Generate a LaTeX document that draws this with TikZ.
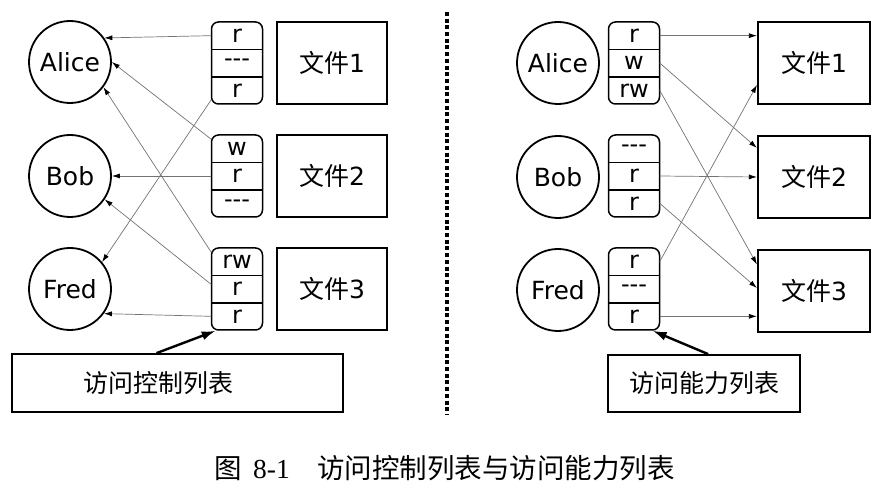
\documentclass[tikz,border=0pt]{standalone}
\usepackage{fontspec}
\usetikzlibrary{arrows.meta}
\newfontfamily\cjkfont{Noto Sans CJK SC}
\newfontfamily\namefont{DejaVu Sans}
\newfontfamily\capnumfont{Liberation Serif}
\newcommand{\permbox}[6]{%
	\node[listframe] (#1) at (#2,#3) {};
	\node[cell] (#1a) at (#2,#3+27.33) {#4};
	\node[cell] (#1b) at (#2,#3) {#5};
	\node[cell] (#1c) at (#2,#3-27.33) {#6};
	\draw[line width=1.5pt] (#1a.south west) -- (#1a.south east)
		(#1b.south west) -- (#1b.south east);
}
\begin{document}
\begin{tikzpicture}[x=1pt,y=1pt,
		user/.style={circle,draw,line width=1.8pt,minimum size=82pt,inner sep=0pt,
			font=\namefont\fontsize{25}{30}\selectfont},
		cell/.style={minimum width=51pt,minimum height=27.33pt,inner sep=0pt,
			font=\namefont\fontsize{24}{28}\selectfont},
		listframe/.style={draw,rounded corners=7pt,line width=1.5pt,
			minimum width=51pt,minimum height=82pt,inner sep=0pt},
		filebox/.style={draw,line width=2.2pt,minimum height=82pt,inner sep=0pt,
			font=\cjkfont\fontsize{25}{30}\selectfont},
		labelbox/.style={draw,line width=1.8pt,inner sep=0pt,
			font=\cjkfont\fontsize{25}{30}\selectfont},
		link/.style={draw=black!55,line width=0.7pt,-{Latex[length=8pt,width=5pt,color=black]}},
		pointer/.style={line width=2.4pt,-{Latex[length=14pt,width=9pt]}}]
	\useasboundingbox (0,0) rectangle (889,492);
	% access control lists
	\node[user] (lalice) at (70,430) {Alice};
	\node[user] (lbob) at (70,316) {Bob};
	\node[user] (lfred) at (70,203) {Fred};
	\permbox{acl1}{237}{429}{r}{{-}{-}{-}}{r}
	\permbox{acl2}{237}{316}{w}{r}{{-}{-}{-}}
	\permbox{acl3}{237}{203}{rw}{r}{r}
	\node[filebox,minimum width=110pt] (lfile1) at (332,429) {文件{\namefont 1}};
	\node[filebox,minimum width=110pt] (lfile2) at (332,316) {文件{\namefont 2}};
	\node[filebox,minimum width=110pt] (lfile3) at (332,203) {文件{\namefont 3}};
	\node[labelbox,minimum width=331pt,minimum height=58pt] (acllist) at (177.5,109)
		{访问控制列表\hspace*{38pt}};
	\draw[link] (acl1a.west) -- (lalice.35);
	\draw[link] (acl1c.200) -- (lfred.40);
	\draw[link] (acl2a.160) -- (lalice.east);
	\draw[link] (acl2b.west) -- (lbob.east);
	\draw[link] (acl3a.160) -- (lalice.-37);
	\draw[link] (acl3b.170) -- (lbob.-34);
	\draw[link] (acl3c.west) -- (lfred.-36);
	\draw[pointer] (acllist.125) -- (acl3.243);
	% separator
	\draw[line width=4pt,dash pattern=on 4pt off 2.7pt] (447,480) -- (447,77);
	% capability lists
	\node[user] (ralice) at (558,429) {Alice};
	\node[user] (rbob) at (558,315) {Bob};
	\node[user] (rfred) at (558,202) {Fred};
	\permbox{cap1}{634}{429}{r}{w}{rw}
	\permbox{cap2}{634}{316}{{-}{-}{-}}{r}{r}
	\permbox{cap3}{634}{203}{r}{{-}{-}{-}}{r}
	\node[filebox,minimum width=112pt] (rfile1) at (814,429) {文件{\namefont 1}};
	\node[filebox,minimum width=112pt] (rfile2) at (814,315) {文件{\namefont 2}};
	\node[filebox,minimum width=112pt] (rfile3) at (814,201) {文件{\namefont 3}};
	\node[labelbox,minimum width=192pt,minimum height=57pt] (caplist) at (704,108.5)
		{访问能力列表};
	\draw[link] (cap1a.east) -- (cap1a.east -| rfile1.west);
	\draw[link] (cap1b.east) -- (rfile2.153);
	\draw[link] (cap1c.east) -- (rfile3.155);
	\draw[link] (cap2b.east) -- (rfile2.west);
	\draw[link] (cap2c.east) -- (rfile3.177);
	\draw[link] (cap3a.east) -- (rfile1.201);
	\draw[link] (cap3c.east) -- (cap3c.east -| rfile3.west);
	\draw[pointer] (caplist.82) -- (cap3.-66);
	\node[font=\fontsize{27.5}{32}\selectfont,anchor=east,inner sep=0pt] (caption) at (675,24)
		{{\cjkfont 图}\hspace{0.4em}{\capnumfont 8-1}\hspace{1em}{\cjkfont 访问控制列表与访问能力列表}};
\end{tikzpicture}
\end{document}
